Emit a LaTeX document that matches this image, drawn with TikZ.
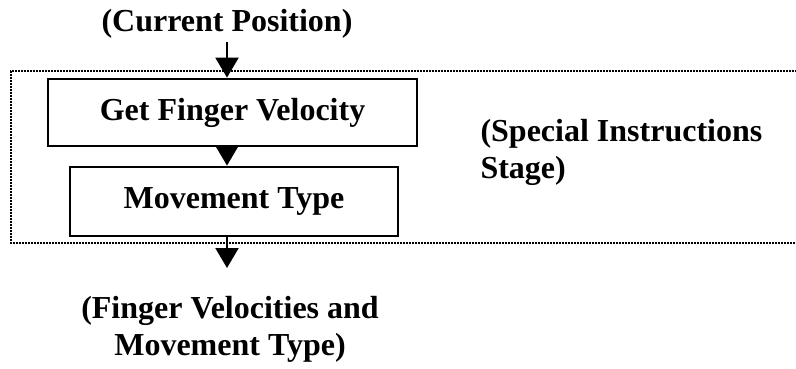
\documentclass[tikz,border=0pt]{standalone}
\usepackage{fontspec}
\setmainfont{Liberation Serif}
\usepackage{tikz}
\usetikzlibrary{arrows.meta, positioning}

\begin{document}
\begin{tikzpicture}[x=1pt, y=-1pt,
        font=\fontsize{32}{37}\selectfont\bfseries,
        stagebox/.style={draw, line width=2.8pt, minimum height=67pt, inner sep=0pt},
        flow/.style={line width=2.2pt, -{Triangle[length=20pt, width=23pt]}},
        frame/.style={line width=2.2pt, dash pattern=on 1.8pt off 1.2pt}]
    \useasboundingbox (0,0) rectangle (796,369);

    % stage frame, open to the right
    \draw[frame] (800,71) -- (11,71) -- (11,243) -- (800,243);

    \node (curpos) at (227,24) {(Current Position)};
    \node[stagebox, minimum width=369pt] (getvel) at (232.5,112.5) {Get Finger Velocity};
    \node[stagebox, minimum width=328pt, minimum height=69pt] (movetype) at (234,201.5) {Movement Type};
    \node[align=left, anchor=west] (stage) at (477,152) {(Special Instructions\\Stage)};
    \node[align=center] (result) at (230,329) {(Finger Velocities and\\Movement Type)};
    \coordinate (out) at (227,268);

    \draw[flow] (curpos.south) -- (curpos.south |- getvel.north);
    \draw[flow] (curpos.south |- getvel.south) -- (curpos.south |- movetype.north);
    \draw[flow] (curpos.south |- movetype.south) -- (out);
\end{tikzpicture}
\end{document}
